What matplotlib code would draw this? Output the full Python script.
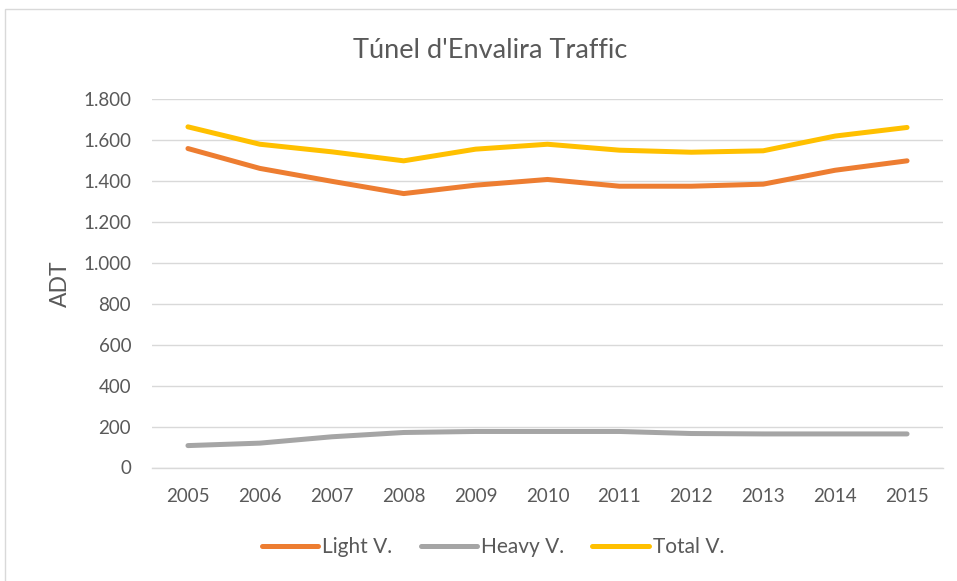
import matplotlib
matplotlib.use("Agg")
import matplotlib.pyplot as plt
from matplotlib.ticker import FuncFormatter
from matplotlib.patches import Rectangle

years = ["2005", "2006", "2007", "2008", "2009", "2010", "2011", "2012", "2013", "2014", "2015"]
light = [1558, 1461, 1398, 1338, 1379, 1407, 1374, 1374, 1384, 1452, 1498]
heavy = [107, 119, 150, 171, 176, 176, 176, 166, 164, 164, 164]
total = [1664, 1579, 1542, 1498, 1555, 1579, 1550, 1540, 1547, 1619, 1661]
yticks = [0, 200, 400, 600, 800, 1000, 1200, 1400, 1600, 1800]

plt.rcParams['font.family'] = ['Lato', 'DejaVu Sans']
txt = '#595959'

W, H = 957, 581
fig = plt.figure(figsize=(W / 100, H / 100), dpi=100)
fig.patch.set_facecolor('white')

# outer chart border (left/top visible)
fig.patches.append(Rectangle((5 / W, -0.1), 1.2, (H - 9) / H + 0.1, transform=fig.transFigure,
                             fill=False, edgecolor='#D9D9D9', linewidth=1.0))

left, right = 152, 943
top, bottom = 99, 467.5
ax = fig.add_axes([left / W, 1 - bottom / H, (right - left) / W, (bottom - top) / H])

x = list(range(len(years)))
lw = 3.6
ax.plot(x, light, color='#ED7D31', lw=lw, solid_capstyle='round', solid_joinstyle='round', label='Light V.', zorder=3)
ax.plot(x, heavy, color='#A5A5A5', lw=lw, solid_capstyle='round', solid_joinstyle='round', label='Heavy V.', zorder=3)
ax.plot(x, total, color='#FFC000', lw=lw, solid_capstyle='round', solid_joinstyle='round', label='Total V.', zorder=3)

ax.set_xlim(-0.5, len(years) - 0.5)
ax.set_ylim(0, 1800)
ax.set_yticks(yticks)
ax.yaxis.set_major_formatter(FuncFormatter(lambda v, p: f"{int(v):,}".replace(",", ".")))
ax.set_xticks(x)
ax.set_xticklabels(years)
ax.grid(axis='y', color='#D9D9D9', linewidth=1.0, zorder=0)
for s in ['top', 'right', 'left']:
    ax.spines[s].set_visible(False)
ax.spines['bottom'].set_color('#D9D9D9')
ax.spines['bottom'].set_linewidth(1.0)
ax.tick_params(axis='both', length=0, labelsize=13.5, colors=txt)
ax.tick_params(axis='y', pad=15)
ax.tick_params(axis='x', pad=15)

ax.set_ylabel('ADT', fontsize=16.5, color=txt, va='center')
ax.yaxis.set_label_coords((60 - left) / (right - left), 0.5)

fig.text(490 / W, 1 - 50 / H, "Túnel d'Envalira Traffic", ha='center', va='center', fontsize=19.5, color=txt)

leg = fig.legend(loc='center', bbox_to_anchor=(493 / W, 1 - 547 / H), ncol=3, frameon=False,
                 fontsize=15, handlelength=2.7, handletextpad=0.2, columnspacing=1.35)
for t in leg.get_texts():
    t.set_color(txt)

fig.savefig('out.png', dpi=100, facecolor='white')
